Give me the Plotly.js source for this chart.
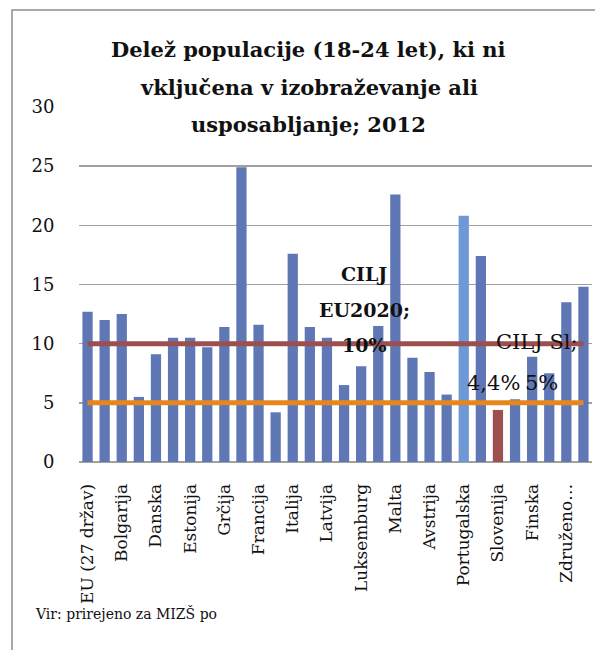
<!DOCTYPE html>
<html>
<head>
<meta charset="utf-8">
<script src="https://cdn.plot.ly/plotly-3.0.1.min.js"></script>
<style>
  html, body { margin: 0; padding: 0; background: #fff; }
  #chart { width: 595px; height: 650px; }
</style>
</head>
<body>
<div id="chart"></div>
<script>
// categories (EU + countries), shares in %
const countries = [
  "EU (27 držav)", "Belgija", "Bolgarija", "Češka", "Danska", "Nemčija",
  "Estonija", "Irska", "Grčija", "Španija", "Francija", "Hrvaška",
  "Italija", "Ciper", "Latvija", "Litva", "Luksemburg", "Madžarska",
  "Malta", "Nizozemska", "Avstrija", "Poljska", "Portugalska", "Romunija",
  "Slovenija", "Slovaška", "Finska", "Švedska", "Združeno kraljestvo", "Norveška"
];
const shares = [
  12.7, 12.0, 12.5, 5.5, 9.1, 10.5,
  10.5, 9.7, 11.4, 24.9, 11.6, 4.2,
  17.6, 11.4, 10.5, 6.5, 8.1, 11.5,
  22.6, 8.8, 7.6, 5.7, 20.8, 17.4,
  4.4, 5.3, 8.9, 7.5, 13.5, 14.8
];
// only every other category gets a label
const tickCountries = countries.filter((c, i) => i % 2 === 0);
const tickLabels = tickCountries.map(c => c === "Združeno kraljestvo" ? "Združeno…" : c);

const targetEU = 10;   // CILJ EU2020
const targetSI = 5;    // CILJ SI
const sloLabel = "4,4%";

const serif = "DejaVu Serif, serif";
const blue = "#5f77b5";

const barColors = countries.map(c => {
  if (c === "Portugalska") return "#6f98d6";
  if (c === "Slovenija") return "#9e5050";
  return blue;
});

const first = countries[0];
const last = countries[countries.length - 1];

const data = [
  {
    type: "bar",
    x: countries,
    y: shares,
    marker: { color: barColors },
    hoverinfo: "skip",
  },
  {
    type: "scatter",
    mode: "lines",
    x: [first, last],
    y: [targetEU, targetEU],
    line: { color: "#9c4f4f", width: 5 },
    hoverinfo: "skip",
  },
  {
    type: "scatter",
    mode: "lines",
    x: [first, last],
    y: [targetSI, targetSI],
    line: { color: "#e8861e", width: 5 },
    hoverinfo: "skip",
  },
];

const ann = function (text, x, y, font, extra) {
  return Object.assign({
    text: text, x: x, y: y, xref: "paper", yref: "paper",
    xanchor: "center", yanchor: "middle", showarrow: false, font: font,
  }, extra || {});
};
const titleFont = { family: serif, size: 21, color: "#111", weight: "bold" };
const boldFont = { family: serif, size: 19, color: "#111", weight: "bold" };
const regFont = { family: serif, size: 21, color: "#111" };

const layout = {
  width: 595,
  height: 650,
  margin: { l: 79, r: 3, t: 107, b: 188 },
  paper_bgcolor: "#fff",
  plot_bgcolor: "#fff",
  showlegend: false,
  bargap: 0.4,
  font: { family: serif, color: "#111" },
  xaxis: {
    type: "category",
    tickmode: "array",
    tickvals: tickCountries,
    ticktext: tickLabels,
    tickangle: -90,
    tickfont: { family: serif, size: 17, color: "#111" },
    ticks: "outside",
    ticklen: 14,
    tickcolor: "rgba(0,0,0,0)",
    showgrid: false,
    showline: false,
    fixedrange: true,
  },
  yaxis: {
    range: [0, 30],
    dtick: 5,
    tickfont: { family: serif, size: 18, color: "#111" },
    ticks: "outside",
    ticklen: 20,
    tickcolor: "rgba(0,0,0,0)",
    showgrid: true,
    gridcolor: "#a0a0a0",
    gridwidth: 1.5,
    zeroline: true,
    zerolinecolor: "#a0a0a0",
    zerolinewidth: 1.5,
    showline: false,
    fixedrange: true,
  },
  shapes: [
    {
      type: "rect", xref: "paper", yref: "paper",
      x0: -0.1306, x1: 1.2, y0: -0.8, y1: 1.2732,
      line: { color: "#8c8c8c", width: 1.5 },
      fillcolor: "rgba(0,0,0,0)",
      layer: "below",
    },
  ],
  annotations: [
    ann("Delež populacije (18-24 let), ki ni", 0.4483, 1.163, titleFont),
    ann("vključena v izobraževanje ali", 0.4483, 1.054, titleFont),
    ann("usposabljanje; 2012", 0.4483, 0.952, titleFont),
    ann("CILJ", 0.556, 0.53, boldFont),
    ann("EU2020;", 0.556, 0.428, boldFont),
    ann("10%", 0.556, 0.33, boldFont),
    ann("CILJ Sl;", 0.8928, 0.338, regFont),
    ann("5%", 0.9025, 0.2225, regFont),
    {
      text: sloLabel, x: "Slovenija", y: shares[countries.indexOf("Slovenija")],
      xref: "x", yref: "y", yshift: 27, xshift: -4, xanchor: "center", yanchor: "middle",
      showarrow: false, font: regFont,
    },
    {
      text: "Vir: prirejeno za MIZŠ po", x: -0.0897, y: -0.428,
      xref: "paper", yref: "paper", xanchor: "left", yanchor: "middle",
      showarrow: false, font: { family: serif, size: 14, color: "#111" },
    },
  ],
};

Plotly.newPlot("chart", data, layout, { displayModeBar: false, staticPlot: true });
</script>
</body>
</html>
